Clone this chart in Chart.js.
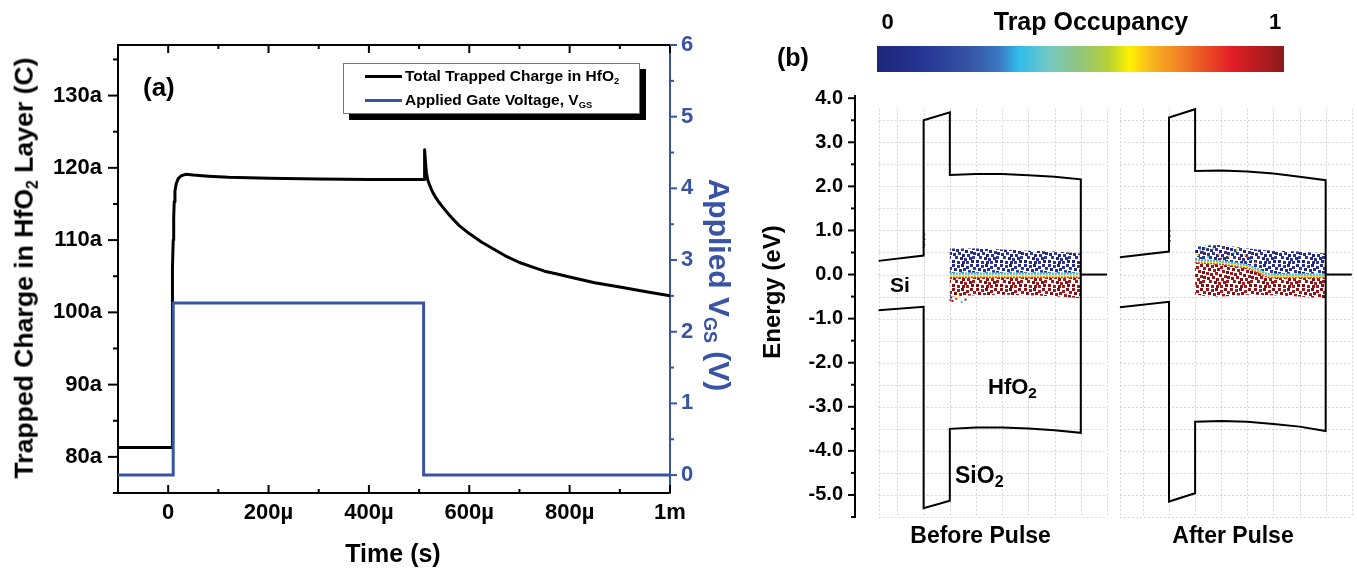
<!DOCTYPE html>
<html><head><meta charset="utf-8">
<script src="https://cdn.jsdelivr.net/npm/chart.js@4.4.1/dist/chart.umd.min.js"></script>
<style>
html,body{margin:0;padding:0;background:#fff;width:1357px;height:571px;overflow:hidden;}
body{position:relative;font-family:"Liberation Sans",Arial,Helvetica,sans-serif;font-weight:bold;color:#000;}
canvas{position:absolute;top:0;}
.t{position:absolute;white-space:nowrap;line-height:1;}
.c{transform:translateX(-50%);}
.sub{font-size:0.6em;position:relative;top:0.3em;}
.sub2{font-size:0.7em;position:relative;top:0.25em;}
.legend{position:absolute;left:343px;top:63px;width:297px;height:51px;box-sizing:border-box;border:1px solid #777;background:#fff;box-shadow:6px 6px 0 #000;}
.lsample{position:absolute;left:365px;width:37px;height:3px;}
</style></head><body>
<canvas id="ca" width="760" height="571" style="left:0"></canvas>
<canvas id="cb" width="350" height="571" style="left:760px"></canvas>
<canvas id="cc" width="247" height="571" style="left:1110px"></canvas>

<!-- panel (a) text -->
<div class="t" style="left:143px;top:73.5px;font-size:26px;">(a)</div>
<div class="legend"></div>
<div class="lsample" style="top:75px;background:#000;"></div>
<div class="lsample" style="top:99px;background:#3a54a4;"></div>
<div class="t" style="left:405px;top:68.3px;font-size:15.5px;">Total Trapped Charge in HfO<span class="sub">2</span></div>
<div class="t" style="left:405px;top:92.3px;font-size:15.5px;">Applied Gate Voltage, V<span class="sub">GS</span></div>
<div class="t" style="left:24.3px;top:267.5px;font-size:26.6px;transform:translate(-50%,-50%) rotate(-90deg);">Trapped Charge in HfO<span class="sub">2</span> Layer (C)</div>
<div class="t" style="left:719.4px;top:285px;font-size:30px;color:#3a54a4;transform:translate(-50%,-50%) rotate(90deg);">Applied V<span class="sub">GS</span> (V)</div>
<div class="t c" style="left:393px;top:540.5px;font-size:25px;">Time (s)</div>

<!-- panel (b) text -->
<div class="t" style="left:777px;top:45.3px;font-size:25px;">(b)</div>
<div class="t c" style="left:887.5px;top:11.4px;font-size:22px;">0</div>
<div class="t c" style="left:1091px;top:8.8px;font-size:25px;">Trap Occupancy</div>
<div class="t c" style="left:1275px;top:11.4px;font-size:22px;">1</div>
<div id="cbar" style="position:absolute;left:877px;top:46px;width:407px;height:26px;"></div>
<div class="t" style="left:771.7px;top:291.5px;font-size:24px;transform:translate(-50%,-50%) rotate(-90deg);">Energy (eV)</div>
<div class="t" style="left:890px;top:273.9px;font-size:21px;">Si</div>
<div class="t" style="left:988px;top:376.4px;font-size:22px;">HfO<span class="sub2">2</span></div>
<div class="t" style="left:955px;top:463.8px;font-size:23px;">SiO<span class="sub2">2</span></div>
<div class="t c" style="left:980.6px;top:523.8px;font-size:23px;">Before Pulse</div>
<div class="t c" style="left:1233px;top:523.8px;font-size:23px;">After Pulse</div>

<script>
// ================= Panel (a) data =================
const chargeTimeUs = [-100, 8, 8, 9, 10, 11, 12, 13.5, 16, 20, 26, 35, 50, 80, 120, 200, 300, 400, 511, 511, 512.5, 514.5, 517, 520, 524, 528, 534, 540, 548, 555, 565, 580, 600, 625, 650, 675, 700, 725, 750, 775, 800, 850, 900, 950, 1000];
const chargeAC     = [81.3, 81.3, 101.0, 106.0, 110.0, 113.0, 115.3, 116.8, 117.8, 118.5, 118.9, 119.1, 119.0, 118.85, 118.7, 118.55, 118.45, 118.4, 118.4, 122.5, 121.0, 119.4, 118.4, 117.8, 117.1, 116.5, 115.8, 115.2, 114.5, 113.9, 113.1, 112.0, 110.9, 109.7, 108.7, 107.7, 106.9, 106.3, 105.7, 105.3, 104.9, 104.1, 103.5, 102.9, 102.3];
const gateTimeUs = [-100, 10, 10, 509, 509, 1000];
const gateVolts  = [0, 0, 2.4, 2.4, 0, 0];

const timeTickValues = [0, 200, 400, 600, 800, 1000];
const timeTickLabels = ['0', '200µ', '400µ', '600µ', '800µ', '1m'];
const timeTickMarks  = [-100, 0, 100, 200, 300, 400, 500, 600, 700, 800, 900, 1000];
const chargeTickValues = [80, 90, 100, 110, 120, 130];
const chargeTickLabels = ['80a', '90a', '100a', '110a', '120a', '130a'];
const chargeTickMarks  = [75, 80, 85, 90, 95, 100, 105, 110, 115, 120, 125, 130, 135];
const voltTickValues = [0, 1, 2, 3, 4, 5, 6];
const voltTickLabels = ['0', '1', '2', '3', '4', '5', '6'];
const voltTickMarks  = [0, 0.5, 1, 1.5, 2, 2.5, 3, 3.5, 4, 4.5, 5, 5.5, 6];

// ================= Panel (b) data =================
const energyTickValues = [4, 3, 2, 1, 0, -1, -2, -3, -4, -5];
const energyTickLabels = ['4.0', '3.0', '2.0', '1.0', '0.0', '-1.0', '-2.0', '-3.0', '-4.0', '-5.0'];
const energyTickMarks  = [4, 3.5, 3, 2.5, 2, 1.5, 1, 0.5, 0, -0.5, -1, -1.5, -2, -2.5, -3, -3.5, -4, -4.5, -5, -5.5];
const gridEnergies = [3.5, 3, 2.5, 2, 1.5, 1, 0.5, 0, -0.5, -1, -1.5, -2, -2.5, -3, -3.5, -4, -4.5, -5, -5.5];
const gridPositions = [-1, 0, 1, 2, 3, 4, 5, 6, 7];

// band edges (position in layer units, energy in eV)
const bandXBefore = [-1.72, 0, 0, 1, 1, 2, 3, 4, 5, 6, 6, 5, 4, 3, 2, 1, 1, 0, 0, -1.72];
const bandEBefore = [0.31, 0.43, 3.50, 3.68, 2.26, 2.28, 2.28, 2.25, 2.22, 2.16, -3.59, -3.53, -3.49, -3.47, -3.47, -3.50, -5.13, -5.30, -0.73, -0.81];
const bandXAfter  = [-1.88, 0, 0, 1, 1, 2, 3, 4, 5, 6, 6, 5, 4, 3, 2, 1, 1, 0, 0, -1.88];
const bandEAfter  = [0.39, 0.52, 3.56, 3.75, 2.35, 2.36, 2.34, 2.29, 2.22, 2.14, -3.55, -3.45, -3.39, -3.34, -3.32, -3.34, -4.96, -5.15, -0.62, -0.74];
const gateLineX = [6, 7];
const gateLineE = [0, 0];

// trap clouds, before pulse
const trapXBefore        = [1, 2, 3, 4, 5, 6];
const emptyTopBefore     = [0.59, 0.59, 0.57, 0.54, 0.52, 0.48];
const emptyBottomBefore  = [0.04, 0.04, 0.04, 0.04, 0.04, 0.04];
const cyanRowBefore      = [0.02, 0.02, 0.02, 0.02, 0.02, 0.02];
const yellowRowBefore    = [-0.025, -0.025, -0.025, -0.025, -0.025, -0.025];
const redRowBefore       = [-0.06, -0.06, -0.06, -0.06, -0.06, -0.06];
const filledTopBefore    = [-0.075, -0.075, -0.075, -0.075, -0.075, -0.075];
const filledBottomBefore = [-0.50, -0.47, -0.46, -0.47, -0.49, -0.54];
const strayXBefore   = [1.02, 1.10, 1.25, 1.45, 1.60, 1.05, 1.35];
const strayEBefore   = [-0.58, -0.60, -0.55, -0.62, -0.57, -0.52, -0.50];
const strayOccBefore = [0.87, 1.0, 0.9, 0.36, 1.0, 0.0, 0.62];
const sio2XBefore = [0.0, 0.03, 0.0, 0.03, 0.0, 0.03, 0.0];
const sio2EBefore = [0.62, 0.68, 0.74, 0.80, 0.86, 0.91, 0.96];

// trap clouds, after pulse
const trapXAfter        = [1, 1.5, 2, 2.5, 3, 3.4, 3.75, 4, 5, 6];
const emptyTopAfter     = [0.63, 0.66, 0.67, 0.63, 0.59, 0.57, 0.55, 0.54, 0.52, 0.48];
const emptyBottomAfter  = [0.36, 0.34, 0.32, 0.28, 0.23, 0.14, 0.03, 0.02, 0.02, 0.02];
const cyanRowAfter      = [0.34, 0.32, 0.30, 0.26, 0.21, 0.12, 0.01, 0.0, 0.0, 0.0];
const yellowRowAfter    = [0.31, 0.29, 0.27, 0.23, 0.18, 0.09, -0.025, -0.035, -0.035, -0.035];
const redRowAfter       = [0.28, 0.26, 0.24, 0.20, 0.15, 0.06, -0.055, -0.06, -0.06, -0.06];
const filledTopAfter    = [0.27, 0.25, 0.23, 0.19, 0.14, 0.05, -0.065, -0.075, -0.075, -0.075];
const filledBottomAfter = [-0.45, -0.49, -0.50, -0.48, -0.46, -0.46, -0.47, -0.47, -0.50, -0.55];
const mixXAfter   = [1.1, 1.3, 1.5, 1.7, 1.9, 2.1, 2.3, 2.5, 2.7, 2.9, 3.1, 3.3, 1.4, 2.0, 2.6, 3.0, 1.2, 2.2];
const mixEAfter   = [0.44, 0.52, 0.40, 0.58, 0.46, 0.62, 0.42, 0.50, 0.38, 0.44, 0.33, 0.27, 0.60, 0.36, 0.55, 0.40, 0.56, 0.50];
const mixOccAfter = [0.63, 0.88, 0.36, 0.50, 0.75, 0.88, 0.63, 0.36, 0.90, 0.63, 0.36, 0.75, 0.50, 0.90, 0.63, 0.88, 0.36, 0.95];
const sio2XAfter = [0.0, 0.03, 0.0, 0.03, 0.0, 0.03, 0.0];
const sio2EAfter = [0.70, 0.76, 0.82, 0.88, 0.94, 0.99, 1.04];

// colour scale for trap occupancy
const occupancyStops = [[0.00,'#1d2677'],[0.10,'#253392'],[0.22,'#3451a3'],[0.30,'#3a78c0'],[0.35,'#2fbdec'],[0.42,'#72c8c4'],[0.50,'#92c47a'],[0.57,'#b6d134'],[0.62,'#fff200'],[0.67,'#f8b91d'],[0.75,'#f07d26'],[0.87,'#e31e25'],[1.00,'#8b1a1c']];

// ================= helpers =================
const BLUE = '#3a54a4';
Chart.defaults.font.family = '"Liberation Sans", Arial, Helvetica, sans-serif';
Chart.defaults.color = '#000';
const pts = (xs, ys) => xs.map((x, i) => ({x: x, y: ys[i]}));
const poly = (xs, top, bot) => pts(xs, top).concat(pts(xs.slice().reverse(), bot.slice().reverse()));
function hex2rgb(h){ return [parseInt(h.slice(1,3),16), parseInt(h.slice(3,5),16), parseInt(h.slice(5,7),16)]; }
function occColor(v){
  for (let i = 1; i < occupancyStops.length; i++) {
    const [p1, c1] = occupancyStops[i-1], [p2, c2] = occupancyStops[i];
    if (v <= p2) {
      const f = (v - p1) / (p2 - p1), a = hex2rgb(c1), b = hex2rgb(c2);
      return 'rgb(' + a.map((q, k) => Math.round(q + (b[k]-q)*f)).join(',') + ')';
    }
  }
  return occupancyStops[occupancyStops.length-1][1];
}
document.getElementById('cbar').style.background =
  'linear-gradient(to right,' + occupancyStops.map(s => s[1] + ' ' + (s[0]*100) + '%').join(',') + ')';

// speckled texture used to render the dense trap clouds (style only)
const DOT_SPOTS = [[0,0],[5,1],[9,0],[14,2],[18,0],[21,3],
                   [2,4],[7,5],[11,4],[16,6],[20,7],
                   [0,8],[4,9],[9,8],[13,10],[18,11],
                   [1,13],[6,12],[10,14],[15,14],[21,12],
                   [3,16],[8,17],[12,18],[17,17],[20,16],
                   [0,20],[5,21],[10,21],[14,21],[19,20]];
function dotPattern(ctx, colors){
  const c = document.createElement('canvas'); c.width = 24; c.height = 24;
  const g = c.getContext('2d');
  DOT_SPOTS.forEach((p, i) => { g.fillStyle = colors[i % colors.length]; g.fillRect(p[0], p[1], 3, 3); });
  return ctx.createPattern(c, 'repeat');
}

function seg(ctx, x1, y1, x2, y2){ ctx.beginPath(); ctx.moveTo(x1, y1); ctx.lineTo(x2, y2); ctx.stroke(); }

// ================= Panel (a) =================
const axisDecorA = {
  id: 'axisDecorA',
  afterDraw(chart){
    const {ctx, chartArea: a, scales} = chart;
    ctx.save();
    ctx.lineWidth = 2; ctx.strokeStyle = '#000';
    seg(ctx, a.left - 1, a.top, a.right, a.top);
    timeTickMarks.forEach(v => {
      const p = scales.x.getPixelForValue(v);
      const L = timeTickValues.includes(v) ? 8 : 4;
      seg(ctx, p, a.bottom, p, a.bottom - L);
      seg(ctx, p, a.top, p, a.top + L);
    });
    chargeTickMarks.forEach(v => {
      const p = scales.yL.getPixelForValue(v);
      const L = chargeTickValues.includes(v) ? 10 : 5;
      seg(ctx, a.left, p, a.left - L, p);
    });
    ctx.strokeStyle = BLUE;
    voltTickMarks.forEach(v => {
      const p = scales.yR.getPixelForValue(v);
      const L = voltTickValues.includes(v) ? 7 : 4;
      seg(ctx, a.right, p, a.right + L, p);
    });
    ctx.restore();
  }
};

new Chart(document.getElementById('ca'), {
  type: 'line',
  data: { datasets: [
    { label: 'Applied Gate Voltage, VGS', data: pts(gateTimeUs, gateVolts), yAxisID: 'yR',
      borderColor: BLUE, borderWidth: 3, pointRadius: 0, tension: 0, fill: false },
    { label: 'Total Trapped Charge in HfO2', data: pts(chargeTimeUs, chargeAC), yAxisID: 'yL',
      borderColor: '#000', borderWidth: 3, pointRadius: 0, tension: 0, fill: false, borderJoinStyle: 'round' }
  ]},
  options: {
    responsive: false, animation: false, devicePixelRatio: 1,
    layout: { padding: { top: 45, left: 0, right: 0, bottom: 0 }, autoPadding: false },
    plugins: { legend: { display: false }, tooltip: { enabled: false } },
    scales: {
      x: { type: 'linear', min: -100, max: 1000,
        afterBuildTicks: s => { s.ticks = timeTickValues.map(v => ({value: v})); },
        afterFit: s => { s.height = 78; },
        ticks: { callback: v => timeTickLabels[timeTickValues.indexOf(v)], font: { size: 22, weight: 'bold' }, padding: 7, maxRotation: 0, autoSkip: false, color: '#000' },
        grid: { display: false, drawTicks: false }, border: { color: '#000', width: 2 } },
      yL: { type: 'linear', position: 'left', min: 75, max: 137,
        afterBuildTicks: s => { s.ticks = chargeTickValues.map(v => ({value: v})); },
        afterFit: s => { s.width = 118; },
        ticks: { callback: v => chargeTickLabels[chargeTickValues.indexOf(v)], font: { size: 22, weight: 'bold' }, padding: 16, color: '#000' },
        grid: { display: false, drawTicks: false }, border: { color: '#000', width: 2 } },
      yR: { type: 'linear', position: 'right', min: -0.25, max: 6,
        afterBuildTicks: s => { s.ticks = voltTickValues.map(v => ({value: v})); },
        afterFit: s => { s.width = 90; },
        ticks: { callback: v => voltTickLabels[voltTickValues.indexOf(v)], font: { size: 22, weight: 'bold' }, padding: 11, color: BLUE },
        grid: { display: false, drawTicks: false }, border: { color: BLUE, width: 2 } }
    }
  },
  plugins: [axisDecorA]
});

// ================= Panel (b) =================
function bandGrid(gridLeftX){
  return {
    id: 'bandGrid',
    beforeDatasetsDraw(chart){
      const {ctx, scales: {x, y}} = chart;
      ctx.save();
      ctx.strokeStyle = '#d6d6d6'; ctx.lineWidth = 1; ctx.setLineDash([2, 2]);
      const xl = x.getPixelForValue(gridLeftX), xr = x.getPixelForValue(7);
      gridEnergies.forEach(e => { const p = Math.round(y.getPixelForValue(e)) + 0.5; seg(ctx, xl, p, xr, p); });
      const yt = y.getPixelForValue(3.75), yb = y.getPixelForValue(-5.5);
      [gridLeftX].concat(gridPositions).forEach(v => { const p = Math.round(x.getPixelForValue(v)) + 0.5; seg(ctx, p, yt, p, yb); });
      ctx.restore();
    }
  };
}
const energyTicksB = {
  id: 'energyTicksB',
  afterDraw(chart){
    const {ctx, chartArea: a, scales: {y}} = chart;
    ctx.save(); ctx.lineWidth = 2; ctx.strokeStyle = '#000';
    energyTickMarks.forEach(v => {
      const p = y.getPixelForValue(v);
      const L = energyTickValues.includes(v) ? 7 : 4;
      seg(ctx, a.left, p, a.left - L, p);
    });
    ctx.restore();
  }
};

function bandDatasets(ctx, d){
  const navy = dotPattern(ctx, ['#262d8c', '#2f3899', '#1f2580', '#2b3390']);
  const dred = dotPattern(ctx, ['#8c1419', '#9c1c20', '#7c1013', '#a01a1e']);
  const rowStyle = (c) => ({ borderColor: c, borderWidth: 2.2, borderDash: [2, 1], pointRadius: 0, fill: false, tension: 0 });
  return [
    { data: pts(d.bandX, d.bandE), borderColor: '#000', borderWidth: 2, pointRadius: 0, fill: false, tension: 0, borderJoinStyle: 'miter' },
    { data: pts(gateLineX, gateLineE), borderColor: '#000', borderWidth: 2, pointRadius: 0, fill: false, tension: 0 },
    { data: pts(d.sio2X, d.sio2E), showLine: false, pointStyle: 'rect', pointRadius: 1.2, pointBorderWidth: 0, pointBackgroundColor: occColor(0.05) },
    { data: pts(d.strayX, d.strayE), showLine: false, pointStyle: 'rect', pointRadius: 1.4, pointBorderWidth: 0, pointBackgroundColor: d.strayOcc.map(occColor) },
    Object.assign({ data: pts(d.trapX, d.cyan) }, rowStyle(occColor(0.36))),
    Object.assign({ data: pts(d.trapX, d.yellow) }, rowStyle(occColor(0.63))),
    Object.assign({ data: pts(d.trapX, d.red) }, rowStyle(occColor(0.84))),
    { data: poly(d.trapX, d.emptyTop, d.emptyBottom), fill: 'shape', backgroundColor: navy, borderColor: 'rgba(0,0,0,0)', borderWidth: 0, pointRadius: 0, tension: 0 },
    { data: poly(d.trapX, d.filledTop, d.filledBottom), fill: 'shape', backgroundColor: dred, borderColor: 'rgba(0,0,0,0)', borderWidth: 0, pointRadius: 0, tension: 0 }
  ];
}

function bandOptions(xMin, xMax, showY, padding){
  return {
    responsive: false, animation: false, devicePixelRatio: 1,
    layout: { padding: padding, autoPadding: false },
    plugins: { legend: { display: false }, tooltip: { enabled: false } },
    scales: {
      x: { type: 'linear', min: xMin, max: xMax, display: false },
      y: { type: 'linear', position: 'left', min: -5.5, max: 4.05, display: showY,
        afterBuildTicks: s => { s.ticks = energyTickValues.map(v => ({value: v})); },
        afterFit: s => { s.width = showY ? 95 : 0; },
        ticks: { callback: v => energyTickLabels[energyTickValues.indexOf(v)], font: { size: 20, weight: 'bold' }, padding: 12, color: '#000' },
        grid: { display: false, drawTicks: false }, border: { color: '#000', width: 2 } }
    }
  };
}

const ctxB = document.getElementById('cb').getContext('2d');
new Chart(ctxB, {
  type: 'line',
  data: { datasets: bandDatasets(ctxB, {
    bandX: bandXBefore, bandE: bandEBefore, sio2X: sio2XBefore, sio2E: sio2EBefore,
    strayX: strayXBefore, strayE: strayEBefore, strayOcc: strayOccBefore,
    trapX: trapXBefore, cyan: cyanRowBefore, yellow: yellowRowBefore, red: redRowBefore,
    emptyTop: emptyTopBefore, emptyBottom: emptyBottomBefore, filledTop: filledTopBefore, filledBottom: filledBottomBefore }) },
  options: bandOptions(-2.62, 7, true, { top: 96, bottom: 54, left: 0, right: 3 }),
  plugins: [bandGrid(-1.72), energyTicksB]
});

const ctxC = document.getElementById('cc').getContext('2d');
new Chart(ctxC, {
  type: 'line',
  data: { datasets: bandDatasets(ctxC, {
    bandX: bandXAfter, bandE: bandEAfter, sio2X: sio2XAfter, sio2E: sio2EAfter,
    strayX: mixXAfter, strayE: mixEAfter, strayOcc: mixOccAfter,
    trapX: trapXAfter, cyan: cyanRowAfter, yellow: yellowRowAfter, red: redRowAfter,
    emptyTop: emptyTopAfter, emptyBottom: emptyBottomAfter, filledTop: filledTopAfter, filledBottom: filledBottomAfter }) },
  options: bandOptions(-2.26, 7.2, false, { top: 96, bottom: 54, left: 0, right: 0 }),
  plugins: [bandGrid(-1.88)]
});
</script>
</body></html>
